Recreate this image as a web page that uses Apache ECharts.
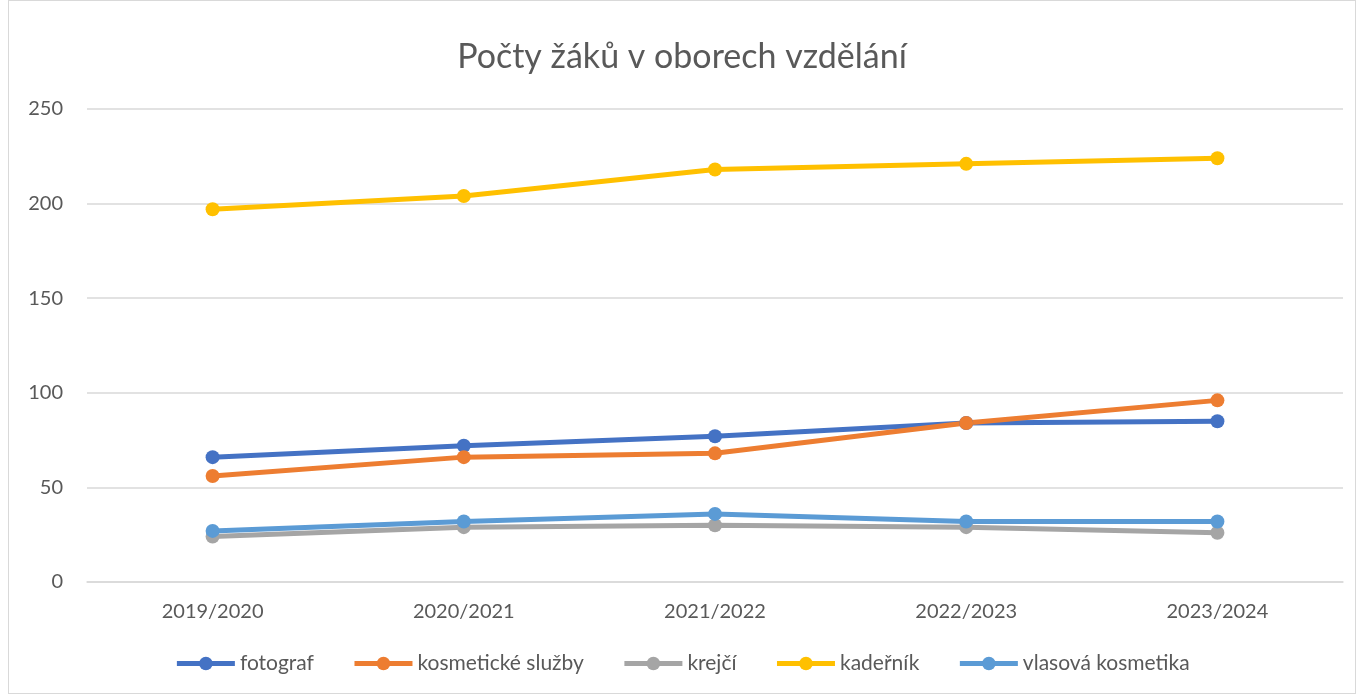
<!DOCTYPE html>
<html>
<head>
<meta charset="utf-8">
<script src="https://cdn.jsdelivr.net/npm/echarts@6/dist/echarts.min.js"></script>
<style>
  html, body { margin: 0; padding: 0; background: #fff; }
  #chart { position: absolute; left: 8px; top: 0; width: 1348px; height: 694px; border: 1px solid #d9d9d9; box-sizing: border-box; }
</style>
</head>
<body>
<div id="chart"></div>
<script>
// skolni roky
const years = ['2019/2020', '2020/2021', '2021/2022', '2022/2023', '2023/2024'];

// pocty zaku v jednotlivych oborech
const fotograf = [66, 72, 77, 84, 85];
const kosmetickeSluzby = [56, 66, 68, 84, 96];
const krejci = [24, 29, 30, 29, 26];
const kadernik = [197, 204, 218, 221, 224];
const vlasovaKosmetika = [27, 32, 36, 32, 32];

const font = 'Lato, "Noto Sans", sans-serif';
const textColor = '#595959';

function lineSeries(name, data, color) {
  return {
    name,
    type: 'line',
    data,
    symbol: 'circle',
    symbolSize: 14,
    lineStyle: { color, width: 5 },
    itemStyle: { color }
  };
}

const chart = echarts.init(document.getElementById('chart'));

var option = {
  animation: false,
  title: {
    text: 'Počty žáků v oborech vzdělání',
    left: 'center',
    top: 34,
    textStyle: { fontFamily: font, fontSize: 34, fontWeight: 'normal', color: textColor }
  },
  grid: {
    left: 78,
    right: 12,
    top: 108,
    bottom: 111
  },
  legend: {
    bottom: 14,
    itemWidth: 58,
    itemHeight: 17,
    itemGap: 38,
    lineStyle: { width: 5 },
    textStyle: { fontFamily: font, fontSize: 21, color: textColor }
  },
  xAxis: {
    type: 'category',
    data: years,
    axisLine: { lineStyle: { color: '#d9d9d9', width: 1.5 } },
    axisTick: { show: false },
    axisLabel: { fontFamily: font, fontSize: 20, color: textColor, margin: 20 }
  },
  yAxis: {
    type: 'value',
    min: 0,
    max: 250,
    interval: 50,
    axisLabel: { fontFamily: font, fontSize: 20, color: textColor, margin: 24 },
    splitLine: { lineStyle: { color: '#d9d9d9', width: 1.5 } }
  },
  series: [
    lineSeries('fotograf', fotograf, '#4472C4'),
    lineSeries('kosmetické služby', kosmetickeSluzby, '#ED7D31'),
    lineSeries('krejčí', krejci, '#A5A5A5'),
    lineSeries('kadeřník', kadernik, '#FFC000'),
    lineSeries('vlasová kosmetika', vlasovaKosmetika, '#5B9BD5')
  ]
};

chart.setOption(option);
</script>
</body>
</html>
